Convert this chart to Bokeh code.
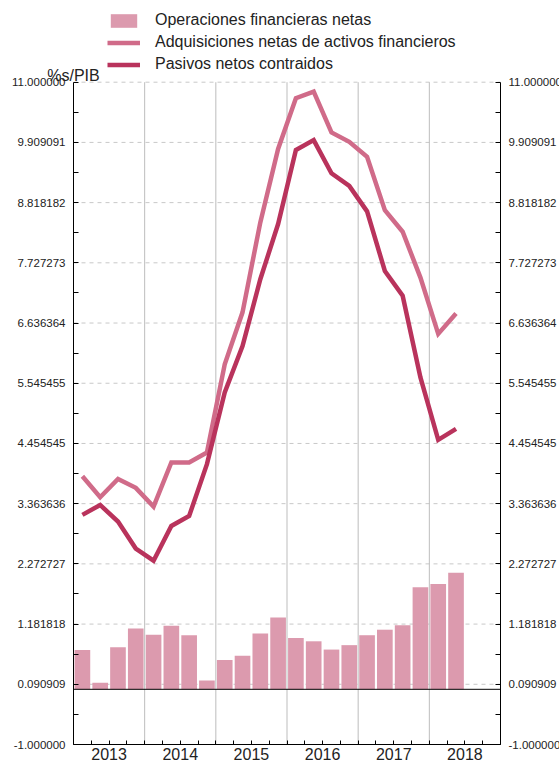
from bokeh.plotting import figure
from bokeh.models import (Range1d, FixedTicker, LinearAxis, Legend, LegendItem, Label,
                          PrintfTickFormatter, ColumnDataSource)
from bokeh.embed import file_html
from bokeh.resources import INLINE

quarters = ["2013T1", "2013T2", "2013T3", "2013T4", "2014T1", "2014T2", "2014T3", "2014T4",
            "2015T1", "2015T2", "2015T3", "2015T4", "2016T1", "2016T2", "2016T3", "2016T4",
            "2017T1", "2017T2", "2017T3", "2017T4", "2018T1", "2018T2"]
operaciones = [0.71, 0.12, 0.76, 1.10, 0.99, 1.15, 0.98, 0.16, 0.53, 0.61, 1.01, 1.30,
               0.93, 0.87, 0.72, 0.80, 0.98, 1.08, 1.16, 1.85, 1.91, 2.11]
adquisiciones = [3.86, 3.48, 3.81, 3.65, 3.31, 4.11, 4.11, 4.29, 5.89, 6.83, 8.46, 9.79,
                 10.71, 10.83, 10.09, 9.92, 9.65, 8.68, 8.29, 7.46, 6.44, 6.81]
pasivos = [3.16, 3.34, 3.04, 2.55, 2.33, 2.96, 3.14, 4.08, 5.38, 6.22, 7.43, 8.43,
           9.77, 9.95, 9.35, 9.12, 8.66, 7.58, 7.13, 5.65, 4.52, 4.72]

years = ["2013", "2014", "2015", "2016", "2017", "2018"]
y_ticks = [-1.0, 0.090909, 1.181818, 2.272727, 3.363636, 4.454545, 5.545455,
           6.636364, 7.727273, 8.818182, 9.909091, 11.0]
y_tick_labels = ["-1.000000", "0.090909", "1.181818", "2.272727", "3.363636", "4.454545",
                 "5.545455", "6.636364", "7.727273", "8.818182", "9.909091", "11.000000"]
series_names = ["Operaciones financieras netas", "Adquisiciones netas de activos financieros",
                "Pasivos netos contraidos"]
unit_label = "%s/PIB"

BAR_C = "#dc9aae"
ADQ_C = "#d06b89"
PAS_C = "#b9335c"
GRID_C = "#c8c8c8"
VGRID_C = "#bdbdbd"
FONT = "Liberation Sans"
TXT = "#222222"

W, H = 559, 763
# plotting-area placement (pixels) inside the canvas
PX_L, PX_R, PX_T, PX_B = 73.0, 500.0, 81.7, 744.0

n_slots = len(years) * 4
y_lo, y_hi = y_ticks[0], y_ticks[-1]
ppx = (PX_R - PX_L) / n_slots
ppy = (PX_B - PX_T) / (y_hi - y_lo)
x_range = Range1d(-PX_L / ppx, n_slots + (W - PX_R) / ppx)
y_range = Range1d(y_lo - (H - PX_B) / ppy, y_hi + PX_T / ppy)

xs = [i + 0.5 for i in range(len(quarters))]
src = ColumnDataSource(dict(x=xs, q=quarters, op=operaciones, adq=adquisiciones, pas=pasivos))

p = figure(width=W, height=H, output_backend="svg", toolbar_location=None,
           x_range=x_range, y_range=y_range, x_axis_location=None, y_axis_location=None,
           min_border=0)
p.outline_line_color = None
p.background_fill_color = "white"
p.xgrid.visible = False
p.ygrid.visible = False

# horizontal dashed grid lines between the two y axes
p.segment(x0=[0] * len(y_ticks), x1=[n_slots] * len(y_ticks), y0=y_ticks, y1=y_ticks,
          line_color=GRID_C, line_width=1, line_dash="4 4")
# year separators
year_bounds = [4 * k for k in range(1, len(years))]
p.segment(x0=year_bounds, x1=year_bounds, y0=[y_lo] * len(year_bounds),
          y1=[y_hi] * len(year_bounds), line_color=VGRID_C, line_width=1)

# bars and lines
r_bar = p.vbar(x="x", top="op", bottom=0, width=0.88, source=src,
               fill_color=BAR_C, line_color=None)
# zero line
p.segment(x0=[0], x1=[n_slots], y0=[0], y1=[0], line_color="black", line_width=1)
r_adq = p.line(x="x", y="adq", source=src, line_color=ADQ_C, line_width=4.5, line_join="miter")
r_pas = p.line(x="x", y="pas", source=src, line_color=PAS_C, line_width=4.5, line_join="miter")

# y axes
minor_y = [(y_ticks[k] + y_ticks[k + 1]) / 2 for k in range(len(y_ticks) - 1)]
overrides = {t: l for t, l in zip(y_ticks, y_tick_labels)}


def style_y(ax):
    ax.ticker = FixedTicker(ticks=y_ticks, minor_ticks=minor_y)
    ax.formatter = PrintfTickFormatter(format="%.6f")
    ax.major_label_overrides = overrides
    ax.bounds = (y_lo, y_hi)
    ax.major_tick_in = 5
    ax.major_tick_out = 0
    ax.minor_tick_in = 5
    ax.minor_tick_out = 0
    ax.axis_line_color = "black"
    ax.major_tick_line_color = "black"
    ax.minor_tick_line_color = "black"
    ax.major_label_text_font = FONT
    ax.major_label_text_font_size = "11.5px"
    ax.major_label_text_color = TXT
    ax.major_label_standoff = 8


left_ax = LinearAxis(fixed_location=0)
style_y(left_ax)
p.add_layout(left_ax, "left")
right_ax = LinearAxis(fixed_location=n_slots)
style_y(right_ax)
p.add_layout(right_ax, "right")

# x axis
year_centers = [4 * k + 2 for k in range(len(years))]
xa = LinearAxis(fixed_location=y_lo)
xa.ticker = FixedTicker(ticks=year_centers, minor_ticks=list(range(0, n_slots + 1)))
xa.major_label_overrides = {c: y for c, y in zip(year_centers, years)}
xa.bounds = (0, n_slots)
xa.major_tick_in = 0
xa.major_tick_out = 0
xa.minor_tick_in = 4
xa.minor_tick_out = 0
xa.axis_line_color = "black"
xa.minor_tick_line_color = "black"
xa.major_label_text_font = FONT
xa.major_label_text_font_size = "16px"
xa.major_label_text_color = TXT
xa.major_label_standoff = 3
p.add_layout(xa, "below")

# y unit label
p.add_layout(Label(x=0, y=y_hi, text=unit_label, text_align="center",
                   text_baseline="alphabetic", y_offset=7, text_font=FONT,
                   text_font_size="16px", text_color=TXT))

legend = Legend(items=[LegendItem(label=series_names[0], renderers=[r_bar]),
                       LegendItem(label=series_names[1], renderers=[r_adq]),
                       LegendItem(label=series_names[2], renderers=[r_pas])],
                location=(107, H - 73), orientation="vertical",
                glyph_width=33, glyph_height=17, label_height=17, spacing=4,
                padding=0, margin=0, label_standoff=15,
                label_text_font=FONT, label_text_font_size="16px", label_text_color=TXT,
                border_line_color=None, background_fill_alpha=0)
p.add_layout(legend)

open("out.html", "w").write(file_html(p, INLINE))
